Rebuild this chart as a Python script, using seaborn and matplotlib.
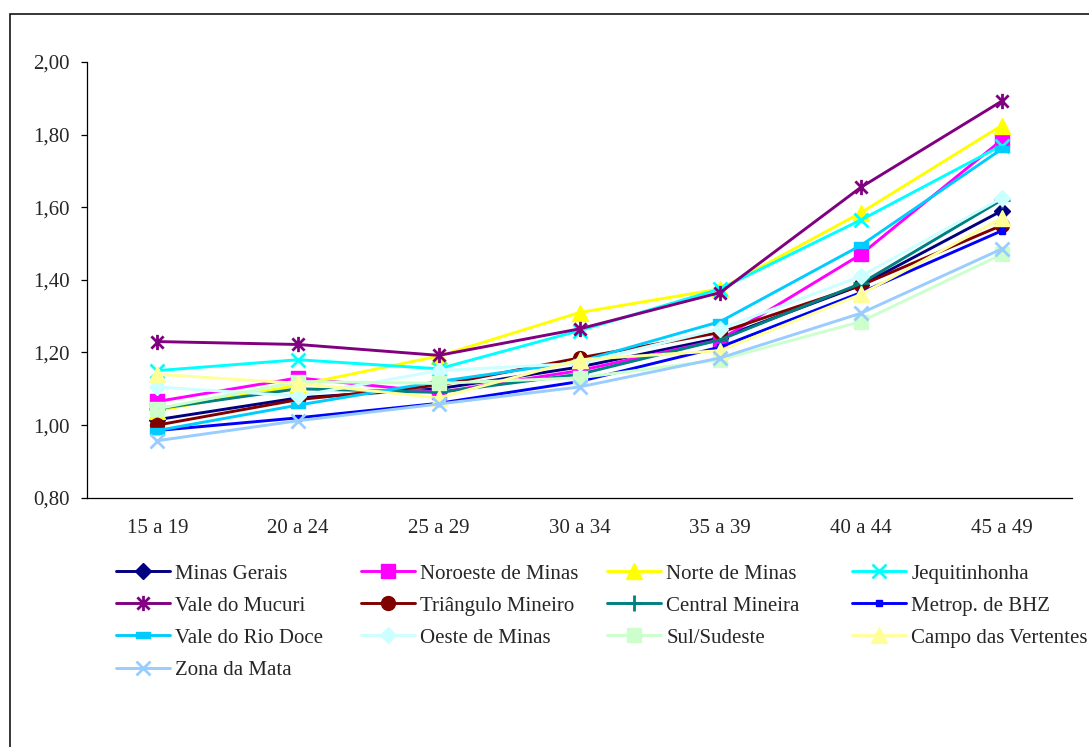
import matplotlib
matplotlib.use("Agg")
import matplotlib.pyplot as plt
from matplotlib.path import Path
from matplotlib.patches import Rectangle
from matplotlib.lines import Line2D
from matplotlib.ticker import FuncFormatter, FixedLocator
import seaborn as sns
import pandas as pd

# Age groups
faixas = ["15 a 19", "20 a 24", "25 a 29", "30 a 34", "35 a 39", "40 a 44", "45 a 49"]

# Ratio per region and age group
minas_gerais = [1.015, 1.075, 1.100, 1.160, 1.240, 1.385, 1.590]
noroeste = [1.065, 1.130, 1.090, 1.150, 1.235, 1.470, 1.785]
norte = [1.040, 1.110, 1.190, 1.310, 1.375, 1.585, 1.825]
jequitinhonha = [1.150, 1.180, 1.155, 1.260, 1.375, 1.565, 1.770]
mucuri = [1.230, 1.222, 1.192, 1.265, 1.365, 1.655, 1.892]
triangulo = [1.000, 1.070, 1.110, 1.185, 1.255, 1.385, 1.550]
central = [1.045, 1.100, 1.090, 1.140, 1.235, 1.390, 1.620]
metrop_bhz = [0.985, 1.020, 1.060, 1.120, 1.215, 1.365, 1.535]
rio_doce = [0.985, 1.055, 1.120, 1.175, 1.285, 1.495, 1.760]
oeste = [1.105, 1.080, 1.150, 1.170, 1.265, 1.410, 1.625]
sul_sudeste = [1.045, 1.120, 1.115, 1.130, 1.180, 1.285, 1.470]
campo_vertentes = [1.140, 1.115, 1.075, 1.180, 1.205, 1.360, 1.570]
zona_mata = [0.957, 1.012, 1.058, 1.105, 1.185, 1.308, 1.485]

regioes = ["Minas Gerais", "Noroeste de Minas", "Norte de Minas", "Jequitinhonha",
           "Vale do Mucuri", "Triângulo Mineiro", "Central Mineira", "Metrop. de BHZ",
           "Vale do Rio Doce", "Oeste de Minas", "Sul/Sudeste", "Campo das Vertentes",
           "Zona da Mata"]
valores = [minas_gerais, noroeste, norte, jequitinhonha, mucuri, triangulo, central,
           metrop_bhz, rio_doce, oeste, sul_sudeste, campo_vertentes, zona_mata]

# Custom marker shapes
star = Path([(0, -1), (0, 1), (-0.8, -0.8), (0.8, 0.8), (-0.8, 0.8), (0.8, -0.8)],
            [Path.MOVETO, Path.LINETO, Path.MOVETO, Path.LINETO, Path.MOVETO, Path.LINETO])
dash = Path([(-1, -0.45), (1, -0.45), (1, 0.45), (-1, 0.45), (-1, -0.45)],
            [Path.MOVETO, Path.LINETO, Path.LINETO, Path.LINETO, Path.CLOSEPOLY])

# color, marker, marker size, filled marker?
estilos = {
    "Minas Gerais": ("#000080", "D", 8.5, True),
    "Noroeste de Minas": ("#FF00FF", "s", 10, True),
    "Norte de Minas": ("#FFFF00", "^", 11, True),
    "Jequitinhonha": ("#00FFFF", "x", 10, False),
    "Vale do Mucuri": ("#800080", star, 11, False),
    "Triângulo Mineiro": ("#800000", "o", 10, True),
    "Central Mineira": ("#008080", "+", 11, False),
    "Metrop. de BHZ": ("#0000FF", "s", 5, True),
    "Vale do Rio Doce": ("#00CCFF", dash, 10, True),
    "Oeste de Minas": ("#CCFFFF", "D", 8.5, True),
    "Sul/Sudeste": ("#CCFFCC", "s", 10, True),
    "Campo das Vertentes": ("#FFFF99", "^", 11, True),
    "Zona da Mata": ("#99CCFF", "x", 10, False),
}

df = pd.DataFrame(
    [(r, i, v) for r, vals in zip(regioes, valores) for i, v in enumerate(vals)],
    columns=["regiao", "pos", "valor"],
)

sns.set_style("white")
plt.rcParams["font.family"] = ["Liberation Serif", "DejaVu Serif"]
plt.rcParams["font.size"] = 15

fig = plt.figure(figsize=(10.89, 7.47), dpi=100)
ax = fig.add_axes([87 / 1089, 1 - 497.7 / 747, (1072 - 87) / 1089, (497.7 - 62) / 747])

lw = 2.1
for r in regioes:
    cor, mk, ms, cheio = estilos[r]
    sub = df[df["regiao"] == r]
    sns.lineplot(data=sub, x="pos", y="valor", ax=ax, color=cor, lw=lw,
                 marker=mk, markersize=ms, markeredgecolor=cor,
                 markerfacecolor=cor if cheio else "none",
                 markeredgewidth=1.0 if cheio else 2.0, legend=False)

ax.set_xlim(-0.5, 6.5)
ax.set_ylim(0.8, 2.0)
ax.set_xlabel("")
ax.set_ylabel("")
ax.set_xticks(range(len(faixas)))
ax.set_xticklabels(faixas)
ax.xaxis.set_minor_locator(FixedLocator([i - 0.5 for i in range(len(faixas) + 1)]))
ax.tick_params(axis="x", which="major", length=0, pad=15.5, labelsize=15)
ax.tick_params(axis="x", which="minor", length=4.5, width=0.9, direction="out", color="black")
ax.set_yticks([0.8, 1.0, 1.2, 1.4, 1.6, 1.8, 2.0])
ax.yaxis.set_major_formatter(FuncFormatter(lambda v, p: f"{v:.2f}".replace(".", ",")))
ax.tick_params(axis="y", length=4.5, width=0.9, direction="out", color="black", pad=8, labelsize=15)
ax.tick_params(left=True)
for s in ["top", "right"]:
    ax.spines[s].set_visible(False)
for s in ["left", "bottom"]:
    ax.spines[s].set_color("black")
    ax.spines[s].set_linewidth(0.9)
ax.grid(False)

# Legend: four columns laid out row by row
col_x = [116, 361, 607, 852]
for c in range(4):
    handles = []
    for r in regioes[c::4]:
        cor, mk, ms, cheio = estilos[r]
        handles.append(Line2D([], [], color=cor, lw=lw, marker=mk, markersize=ms,
                              markeredgecolor=cor,
                              markerfacecolor=cor if cheio else "none",
                              markeredgewidth=1.0 if cheio else 2.0, label=r))
    leg = fig.legend(handles=handles, loc="upper left",
                     bbox_to_anchor=(col_x[c] / 1089, 1 - 564 / 747),
                     bbox_transform=fig.transFigure, frameon=False, fontsize=15,
                     handlelength=2.6, handletextpad=0.25, labelspacing=0.6,
                     borderpad=0, borderaxespad=0, markerscale=1.0)

# Chart area border
fig.patches.append(Rectangle((10 / 1089, -0.2), 1.5, 0.2 + 1 - 14 / 747,
                             transform=fig.transFigure, fill=False,
                             edgecolor="black", linewidth=1.1, zorder=0))

fig.savefig("out.png", dpi=100)
